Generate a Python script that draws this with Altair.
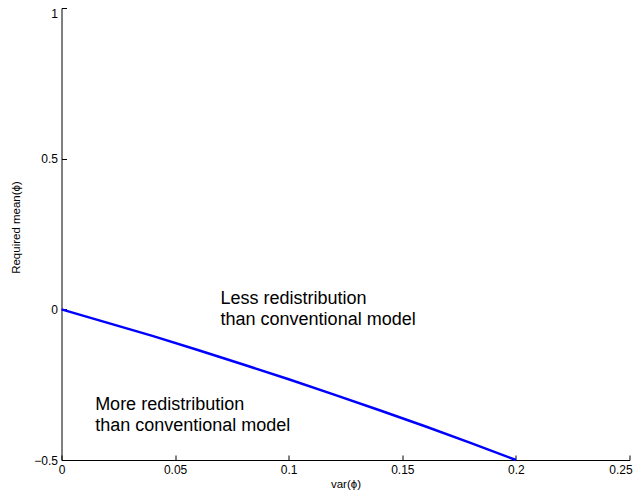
import altair as alt
import pandas as pd

# Curve values
var_phi = [0.00, 0.02, 0.04, 0.06, 0.08, 0.10, 0.12, 0.14, 0.16, 0.18, 0.20]
req_mean = [0.0, -0.044, -0.088, -0.135, -0.183, -0.232, -0.283, -0.335, -0.388, -0.443, -0.5]

# Axis ticks
x_ticks = [0, 0.05, 0.1, 0.15, 0.2, 0.25]
y_ticks = [-0.5, 0, 0.5, 1]

# Annotations
ann_text = ["Less redistribution\nthan conventional model", "More redistribution\nthan conventional model"]
ann_x = [0.070, 0.0148]
ann_y = [0.0166, -0.333]

FONT = "Liberation Sans"
W, H = 568, 452

curve = pd.DataFrame({"x": var_phi, "y": req_mean})
ann = pd.DataFrame({"text": ann_text, "x": ann_x, "y": ann_y})

xscale = alt.Scale(domain=[0, 0.25], nice=False, zero=False)
yscale = alt.Scale(domain=[-0.5, 1], nice=False, zero=False)

line = alt.Chart(curve).mark_line(color="#0000ff", strokeWidth=2.5).encode(
    x=alt.X("x:Q", scale=xscale, axis=alt.Axis(
        title="var(ϕ)", values=x_ticks, format="~g", ticks=False, tickSize=0,
        labelPadding=4, labelFontSize=12, labelFont=FONT, labelColor="black",
        labelOffset={"condition": {"test": "datum.value == 0.25", "value": -9}, "value": 0},
        domainColor="black", grid=False, labelFlush=False, labelOverlap=False,
        titleFont=FONT, titleFontSize=11.5, titleFontWeight="normal", titleColor="black",
        titleX=W / 2, titleY=24, titleBaseline="middle", titleAlign="center")),
    y=alt.Y("y:Q", scale=yscale, axis=alt.Axis(
        title="Required mean(ϕ)", values=y_ticks, format="~g", ticks=False, tickSize=0,
        labelPadding=4, labelFontSize=12, labelFont=FONT, labelColor="black",
        labelBaseline={"condition": {"test": "datum.value == 1", "value": "top"}, "value": "middle"},
        domainColor="black", grid=False, labelFlush=False, labelOverlap=False,
        titleFont=FONT, titleFontSize=11.5, titleFontWeight="normal", titleColor="black",
        titleX=-45, titleY=219, titleBaseline="middle", titleAlign="center")),
)

texts = alt.Chart(ann).mark_text(
    align="left", baseline="alphabetic", fontSize=18, font=FONT, color="black",
    lineBreak="\n", lineHeight=21,
).encode(
    x=alt.X("x:Q", scale=xscale, axis=alt.Axis(
        orient="top", offset=-H, values=x_ticks, labels=False, domain=False,
        ticks=True, tickSize=5, tickColor="black", title=None, grid=False)),
    y=alt.Y("y:Q", scale=yscale, axis=alt.Axis(
        orient="right", offset=-W, values=y_ticks, labels=False, domain=False,
        ticks=True, tickSize=5, tickColor="black", title=None, grid=False)),
    text="text:N",
)

chart = alt.layer(line, texts).resolve_axis(x="independent", y="independent").properties(
    width=W, height=H,
    autosize=alt.AutoSizeParams(type="none"),
    padding={"left": 53.5, "top": 0, "right": 3.5, "bottom": 33},
    background="white",
).configure_view(stroke=None)

chart.save("out.html", embed_options={"renderer": "svg", "actions": False})
